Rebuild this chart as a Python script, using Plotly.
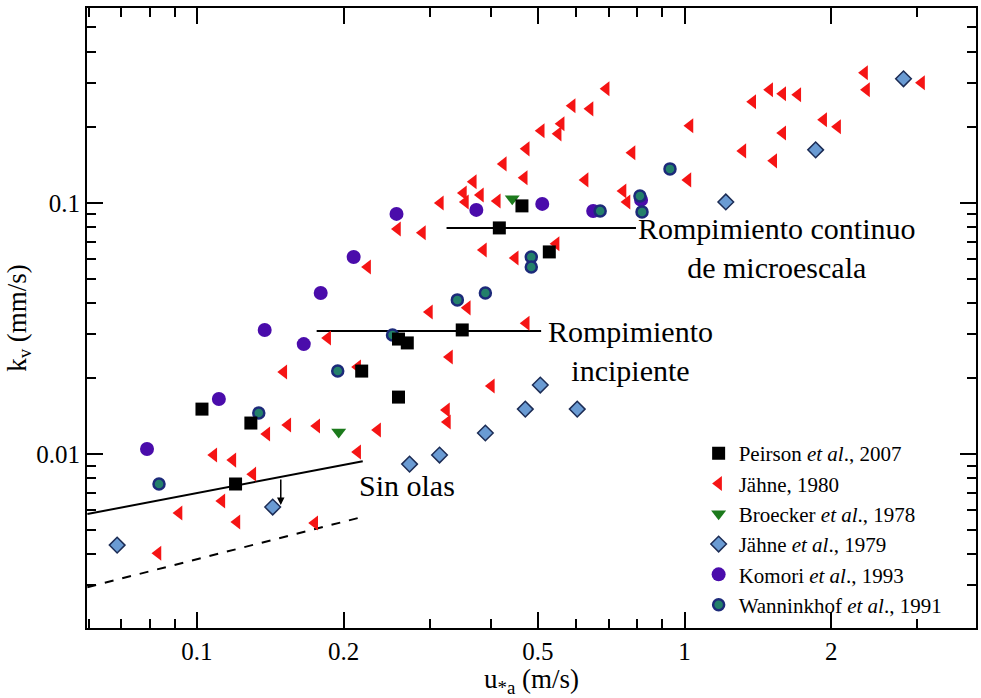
import math
import plotly.graph_objects as go

# ---------------- data ----------------
peirson_x = [0.464, 0.417, 0.528, 0.350, 0.259, 0.270, 0.2177, 0.259, 0.1024, 0.129, 0.120]
peirson_y = [0.0973, 0.0795, 0.0638, 0.0312, 0.0287, 0.0277, 0.0214, 0.01686, 0.0151, 0.01329, 0.0076]

jahne80_x = [0.4735, 0.4249, 0.469, 0.3688, 0.352, 0.3814, 0.3553, 0.3157, 0.413, 0.2578,
             0.290, 0.2239, 0.3868, 0.4496, 0.2998, 0.3585, 0.4735, 0.5083, 0.5585, 0.5506,
             0.5883, 0.640, 0.6906, 0.6253, 0.7804, 0.748, 0.7622, 1.026, 1.016, 1.317,
             1.380, 1.495, 1.590, 1.707, 1.590, 1.524, 1.929, 2.06, 2.34, 2.362,
             3.062, 0.5453, 0.1854, 0.1507, 0.2136, 0.3296, 0.4016, 0.3249, 0.3264, 0.1536,
             0.1761, 0.1391, 0.2347, 0.2136, 0.1083, 0.1185, 0.1302, 0.1125, 0.0919, 0.1208,
             0.1744, 0.0832]
jahne80_y = [0.1641, 0.143, 0.1258, 0.1213, 0.1096, 0.1076, 0.1009, 0.100, 0.1018, 0.0788,
             0.076, 0.0556, 0.065, 0.0604, 0.0368, 0.0382, 0.0332, 0.1936, 0.2064, 0.1883,
             0.2435, 0.2368, 0.2845, 0.1235, 0.1582, 0.1116, 0.1009, 0.2027, 0.1235, 0.1611,
             0.2526, 0.2819, 0.2718, 0.2693, 0.19, 0.147, 0.2141, 0.2008, 0.3296, 0.2819,
             0.3007, 0.0687, 0.029, 0.0212, 0.0222, 0.02435, 0.01866, 0.01497, 0.01341, 0.01304,
             0.01293, 0.01202, 0.01246, 0.01019, 0.00991, 0.00946, 0.00832, 0.0065, 0.00582, 0.00536,
             0.00531, 0.00403]

broecker_x = [0.4432, 0.1953]
broecker_y = [0.1038, 0.01224]

jahne79_x = [2.812, 1.857, 1.215, 0.506, 0.4714, 0.6024, 0.3904, 0.3144, 0.2729, 0.143, 0.0686]
jahne79_y = [0.3119, 0.1626, 0.1009, 0.01883, 0.0151, 0.0151, 0.01213, 0.00991, 0.00912, 0.00615, 0.00434]

komori_x = [0.2566, 0.3741, 0.5107, 0.6495, 0.8143, 0.2096, 0.1794, 0.1377, 0.1656, 0.1109, 0.079]
komori_y = [0.0904, 0.0938, 0.0991, 0.0929, 0.1028, 0.0609, 0.0438, 0.0312, 0.0274, 0.01656, 0.01047]

wann_x = [0.9335, 0.6713, 0.818, 0.810, 0.4849, 0.4849, 0.342, 0.3904, 0.2518, 0.1944, 0.1339, 0.0836]
wann_y = [0.1366, 0.0929, 0.0921, 0.1066, 0.0609, 0.0556, 0.0411, 0.0438, 0.0298, 0.0214, 0.01457, 0.0076]

# reference lines
sin_olas_x = [0.0596, 0.2188]
sin_olas_y = [0.00577, 0.00937]
sin_olas_dash_x = [0.0596, 0.2177]
sin_olas_dash_y = [0.00295, 0.00561]
incip_x = [0.176, 0.508]
incip_y = [0.0309, 0.0309]
contin_x = [0.325, 0.795]
contin_y = [0.0795, 0.0795]

x_tickvals = [0.1, 0.2, 0.5, 1, 2]
x_ticktext = ["0.1", "0.2", "0.5", "1", "2"]
y_tickvals = [0.01, 0.1]
y_ticktext = ["0.01", "0.1"]

FONT = "Liberation Serif, Times New Roman, serif"

fig = go.Figure()

line_style = dict(color="black", width=2)
fig.add_trace(go.Scatter(x=sin_olas_x, y=sin_olas_y, mode="lines", line=line_style,
                         showlegend=False, hoverinfo="skip"))
fig.add_trace(go.Scatter(x=sin_olas_dash_x, y=sin_olas_dash_y, mode="lines",
                         line=dict(color="black", width=2, dash="dash"),
                         showlegend=False, hoverinfo="skip"))
fig.add_trace(go.Scatter(x=incip_x, y=incip_y, mode="lines", line=line_style,
                         showlegend=False, hoverinfo="skip"))
fig.add_trace(go.Scatter(x=contin_x, y=contin_y, mode="lines", line=line_style,
                         showlegend=False, hoverinfo="skip"))

fig.add_trace(go.Scatter(x=jahne79_x, y=jahne79_y, mode="markers", name="Jähne <i>et al</i>., 1979",
                         marker=dict(symbol="diamond", size=12, color="#6a9bd3",
                                     line=dict(color="#1c2c55", width=1.5)), legendrank=4))
fig.add_trace(go.Scatter(x=jahne80_x, y=jahne80_y, mode="markers", name="Jähne, 1980",
                         marker=dict(symbol="triangle-left", size=13, color="#f51414",
                                     line=dict(width=0)), legendrank=2))
fig.add_trace(go.Scatter(x=komori_x, y=komori_y, mode="markers", name="Komori <i>et al</i>., 1993",
                         marker=dict(symbol="circle", size=14, color="#4a0cab",
                                     line=dict(width=0)), legendrank=5))
fig.add_trace(go.Scatter(x=wann_x, y=wann_y, mode="markers", name="Wanninkhof <i>et al</i>., 1991",
                         marker=dict(symbol="circle", size=11, color="#23806a",
                                     line=dict(color="#1c2a7a", width=2.5)), legendrank=6))
fig.add_trace(go.Scatter(x=broecker_x, y=broecker_y, mode="markers", name="Broecker <i>et al</i>., 1978",
                         marker=dict(symbol="triangle-down", size=13, color="#1c7a1c",
                                     line=dict(width=0)), legendrank=3))
fig.add_trace(go.Scatter(x=peirson_x, y=peirson_y, mode="markers", name="Peirson <i>et al</i>., 2007",
                         marker=dict(symbol="square", size=13, color="black",
                                     line=dict(width=0)), legendrank=1))

ann_font = dict(family=FONT, size=30, color="black")
annotations = [
    dict(x=-0.6725, y=-2.1235, xref="x", yref="y", text="Sin olas", showarrow=False,
         xanchor="left", yanchor="middle", font=ann_font),
    dict(x=-0.1117, y=-1.5896, xref="x", yref="y", text="Rompimiento<br>incipiente",
         showarrow=False, xanchor="center", yanchor="middle", align="center", font=ann_font),
    dict(x=0.1891, y=-1.1793, xref="x", yref="y", text="Rompimiento continuo<br>de microescala",
         showarrow=False, xanchor="center", yanchor="middle", align="center", font=ann_font),
    dict(x=-0.8281, y=-2.2032, ax=-0.8281, ay=-2.0956, xref="x", yref="y", axref="x", ayref="y",
         text="", showarrow=True, arrowhead=2, arrowsize=1, arrowwidth=1.5, arrowcolor="black"),
]

axis_common = dict(
    type="log", showline=True, linecolor="black", linewidth=2, mirror="allticks",
    ticks="inside", ticklen=16, tickwidth=2, tickcolor="black", showgrid=False, zeroline=False,
    tickfont=dict(family=FONT, size=25, color="black"),
    minor=dict(dtick="D1", ticks="inside", ticklen=9, tickwidth=1.5, tickcolor="black", showgrid=False),
)

fig.update_layout(
    width=981, height=698,
    margin=dict(l=87, r=3, t=8, b=70),
    paper_bgcolor="white", plot_bgcolor="white",
    font=dict(family=FONT, color="black"),
    xaxis=dict(axis_common, range=[math.log10(0.0595), math.log10(3.96)],
               tickmode="array", tickvals=x_tickvals, ticktext=x_ticktext,
               title=dict(text="u<sub>*a</sub> (m/s)", font=dict(family=FONT, size=27), standoff=0)),
    yaxis=dict(axis_common, range=[math.log10(0.00203), math.log10(0.597)],
               tickmode="array", tickvals=y_tickvals, ticktext=y_ticktext,
               title=dict(text="k<sub>v</sub> (mm/s)", font=dict(family=FONT, size=27), standoff=2)),
    legend=dict(x=0.688, y=0.3145, xanchor="left", yanchor="top", bgcolor="rgba(0,0,0,0)",
                font=dict(family=FONT, size=21, color="black"), itemwidth=30,
                tracegroupgap=0, traceorder="normal"),
    annotations=annotations,
)

fig.write_html("out.html")
